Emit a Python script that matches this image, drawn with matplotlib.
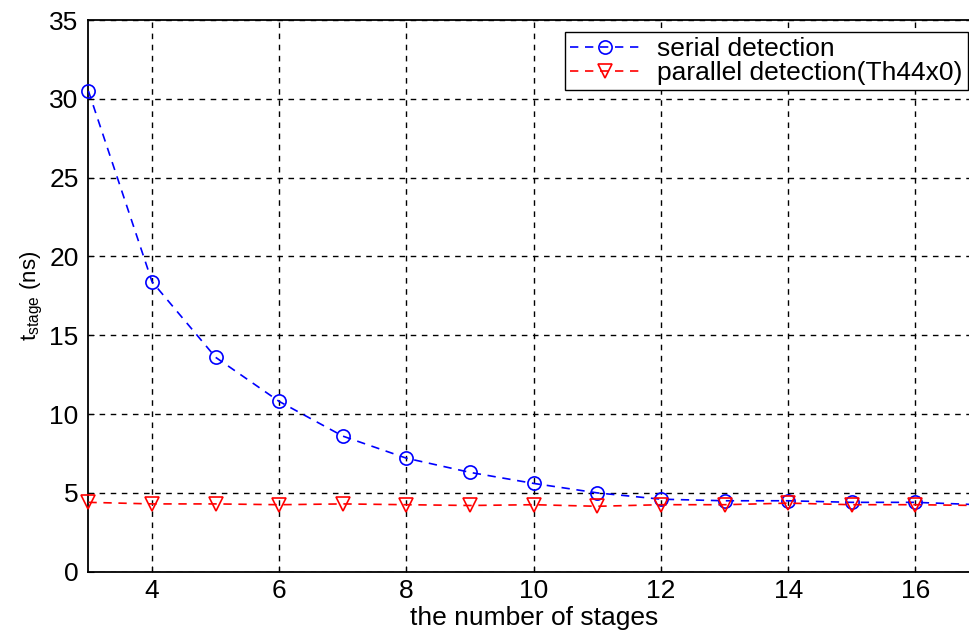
import matplotlib
matplotlib.use("Agg")
import matplotlib.pyplot as plt

plt.rcParams['font.family'] = ['Liberation Sans', 'DejaVu Sans']
plt.rcParams['mathtext.fontset'] = 'custom'
plt.rcParams['mathtext.rm'] = 'Liberation Sans'
plt.rcParams['mathtext.it'] = 'Liberation Sans'

stages = [3, 4, 5, 6, 7, 8, 9, 10, 11, 12, 13, 14, 15, 16, 17]
serial = [30.5, 18.4, 13.6, 10.8, 8.6, 7.2, 6.3, 5.6, 5.0, 4.6, 4.5, 4.5, 4.4, 4.4, 4.25]
parallel = [4.4, 4.3, 4.3, 4.25, 4.3, 4.25, 4.2, 4.25, 4.15, 4.25, 4.25, 4.35, 4.25, 4.25, 4.2]

xticks = [4, 6, 8, 10, 12, 14, 16]
yticks = [0, 5, 10, 15, 20, 25, 30, 35]

FS = 19
W, H = 969, 634
fig = plt.figure(figsize=(W / 100, H / 100), dpi=100)
left, right, top, bottom = 88.4, 979, 20, 571.7
ax = fig.add_axes([left / W, 1 - bottom / H, (right - left) / W, (bottom - top) / H])

ax.plot(stages, serial, color='#0000ff', linestyle=(0, (5, 4)), linewidth=1.2,
        marker='o', markersize=9.5, markerfacecolor='none', markeredgecolor='#0000ff',
        markeredgewidth=1.2, label='serial detection', clip_on=False, zorder=3)
ax.plot(stages, parallel, color='#ff0000', linestyle=(0, (5, 4)), linewidth=1.2,
        marker='v', markersize=9.5, markerfacecolor='none', markeredgecolor='#ff0000',
        markeredgewidth=1.2, label='parallel detection(Th44x0)', clip_on=False, zorder=3)

ax.set_xlim(3, 17)
ax.set_ylim(0, 35)
ax.set_xticks(xticks)
ax.set_yticks(yticks)
ax.tick_params(direction='in', length=4, labelsize=FS, pad=7, colors='black')
ax.tick_params(axis='x', pad=5)
ax.grid(True, color='black', linestyle=(0, (4, 4)), linewidth=1.0)
for s in ax.spines.values():
    s.set_linewidth(1.3)
    s.set_color('black')

ax.set_xlabel('the number of stages', fontsize=FS)
ax.xaxis.set_label_coords(0.5, -(606 - bottom) / (bottom - top))
ax.set_ylabel(r'$\mathrm{t}_{\mathrm{stage}}$ (ns)', fontsize=16)
ax.yaxis.set_label_coords(-(88.4 - 45) / (right - left), 0.5)

leg = ax.legend(loc='upper right', bbox_to_anchor=((968 - left) / (right - left), 1 - (31.7 - top) / (bottom - top)),
                fontsize=FS, frameon=True, fancybox=False, framealpha=1, edgecolor='black',
                handlelength=2.6, borderpad=0.2, labelspacing=0.0, handletextpad=0.7, borderaxespad=0)
leg.get_frame().set_linewidth(1.0)

fig.savefig('out.png', dpi=100)
